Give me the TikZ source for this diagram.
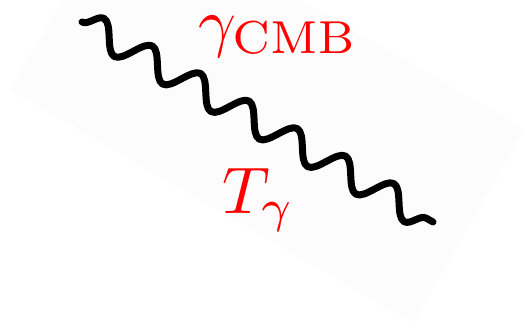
\documentclass[tikz,border=0pt]{standalone}
\usetikzlibrary{decorations.pathmorphing}
\definecolor{bgfaint}{RGB}{252,252,252}
\begin{document}
\begin{tikzpicture}[x=1pt,y=-1pt,
  photon/.style={line width=7pt, line cap=round, line join=round, decorate,
    decoration={snake, amplitude=14pt, segment length=55.6pt}},
  lbl/.style={text=red, inner sep=0pt, scale=6.6, anchor=base west}]
\useasboundingbox (0,0) rectangle (529,330);
\clip (0,0) rectangle (529,330);
\fill[bgfaint] (10,90) -- (413,323) -- (524.8,129.3) -- (121.8,-103.6) -- cycle;
\coordinate (ps) at (82,22);
\coordinate (pe) at (433,222);
\draw[photon] (ps) -- (pe);
\node[lbl] (gcmb) at (197,44) {$\gamma_{\mathrm{CMB}}$};
\node[lbl] (tg) at (221,213) {$T_\gamma$};
\end{tikzpicture}
\end{document}
